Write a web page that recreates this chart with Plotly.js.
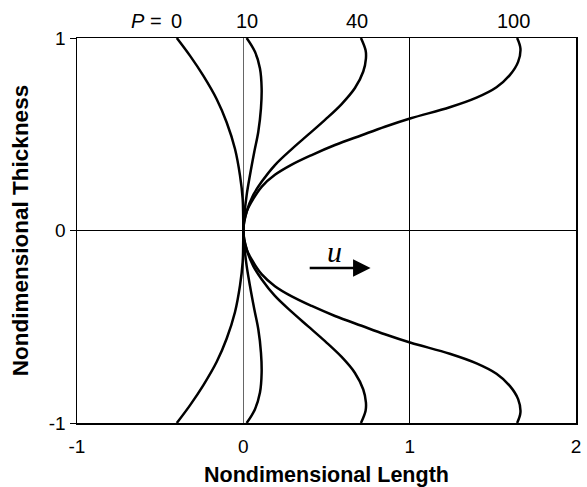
<!DOCTYPE html>
<html>
<head>
<meta charset="utf-8">
<script src="https://cdn.plot.ly/plotly-3.0.1.min.js"></script>
<style>
  html, body { margin: 0; padding: 0; background: #fff; }
  #chart { width: 587px; height: 487px; }
</style>
</head>
<body>
<div id="chart"></div>
<script>
// Velocity profiles across the gap for several pressure parameters P.
var pLabels = ['0', '10', '40', '100'];

var thickP0 = [1, 0.907, 0.803, 0.682, 0.561, 0.423, 0.285, 0.164, 0.08, 0,
               -0.08, -0.164, -0.285, -0.423, -0.561, -0.682, -0.803, -0.907, -1];
var lengthP0 = [-0.400, -0.320, -0.240, -0.160, -0.100, -0.050, -0.020, -0.004, -0.001, 0,
                -0.001, -0.004, -0.020, -0.050, -0.100, -0.160, -0.240, -0.320, -0.400];

var thickP10 = [1, 0.928, 0.842, 0.738, 0.634, 0.513, 0.409, 0.288, 0.184, 0.08, 0,
                -0.08, -0.184, -0.288, -0.409, -0.513, -0.634, -0.738, -0.842, -0.928, -1];
var lengthP10 = [0.020, 0.070, 0.100, 0.110, 0.106, 0.090, 0.066, 0.040, 0.020, 0.006, 0,
                 0.006, 0.020, 0.040, 0.066, 0.090, 0.106, 0.110, 0.100, 0.070, 0.020];

var thickP40 = [1, 0.936, 0.893, 0.826, 0.740, 0.657, 0.575, 0.498, 0.423, 0.340, 0.254, 0.185, 0.098, 0,
                -0.098, -0.185, -0.254, -0.340, -0.423, -0.498, -0.575, -0.657, -0.740, -0.826, -0.893, -0.936, -1];
var lengthP40 = [0.707, 0.735, 0.737, 0.721, 0.671, 0.591, 0.491, 0.390, 0.291, 0.190, 0.111, 0.060, 0.020, 0,
                 0.020, 0.060, 0.111, 0.190, 0.291, 0.390, 0.491, 0.591, 0.671, 0.721, 0.737, 0.735, 0.707];

var thickP100 = [1, 0.945, 0.876, 0.807, 0.744, 0.690, 0.640, 0.583, 0.539, 0.495, 0.444, 0.392, 0.342, 0.289, 0.228, 0.150, 0.098, 0,
                 -0.098, -0.150, -0.228, -0.289, -0.342, -0.392, -0.444, -0.495, -0.539, -0.583, -0.640, -0.690, -0.744, -0.807, -0.876, -0.945, -1];
var lengthP100 = [1.646, 1.666, 1.652, 1.602, 1.522, 1.402, 1.241, 1.007, 0.851, 0.711, 0.551, 0.411, 0.291, 0.190, 0.111, 0.050, 0.020, 0,
                  0.020, 0.050, 0.111, 0.190, 0.291, 0.411, 0.551, 0.711, 0.851, 1.007, 1.241, 1.402, 1.522, 1.602, 1.652, 1.666, 1.646];

var xTicks = [-1, 0, 1, 2];
var xTickText = ['-1', '0', '1', '2'];
var yTicks = [-1, 0, 1];
var yTickText = ['-1', '0', '1'];

var profiles = [
  { x: lengthP0, y: thickP0 },
  { x: lengthP10, y: thickP10 },
  { x: lengthP40, y: thickP40 },
  { x: lengthP100, y: thickP100 }
];

var sans = 'Liberation Sans, Arial, Helvetica, sans-serif';

var traces = profiles.map(function (p) {
  return {
    type: 'scatter',
    mode: 'lines',
    x: p.x,
    y: p.y,
    line: { color: '#000', width: 2.5, shape: 'spline', smoothing: 1 },
    hoverinfo: 'skip',
    showlegend: false
  };
});

// P value labels above the top of each curve
var labelShift = [0, 0, -4, -4];
var annotations = profiles.map(function (p, i) {
  return {
    x: p.x[0], xref: 'x',
    y: 1, yref: 'paper',
    yanchor: 'middle', yshift: 17, xshift: labelShift[i],
    text: pLabels[i],
    showarrow: false,
    font: { family: sans, size: 20, color: '#000' }
  };
});
annotations.push({
  x: profiles[0].x[0], xref: 'x',
  y: 1, yref: 'paper',
  xanchor: 'right', yanchor: 'middle', yshift: 17, xshift: -13,
  text: '<i>P</i> =',
  showarrow: false,
  font: { family: sans, size: 20, color: '#000' }
});
// flow direction arrow
annotations.push({
  x: 0.765, y: -0.195, xref: 'x', yref: 'y',
  ax: 0.39, ay: -0.195, axref: 'x', ayref: 'y',
  showarrow: true, arrowhead: 2, arrowsize: 1.4, arrowwidth: 2.5, arrowcolor: '#000',
  text: ''
});
annotations.push({
  x: 0.55, y: -0.11, xref: 'x', yref: 'y',
  text: '<i>u</i>', showarrow: false,
  font: { family: 'Liberation Serif, Times New Roman, serif', size: 30, color: '#000' }
});

var layout = {
  width: 587, height: 487,
  margin: { l: 77, r: 11, t: 38, b: 64 },
  paper_bgcolor: '#fff', plot_bgcolor: '#fff',
  font: { family: sans, size: 19, color: '#000' },
  xaxis: {
    range: [-1, 2],
    tickmode: 'array', tickvals: xTicks, ticktext: xTickText,
    ticks: '', showline: true, mirror: true, linecolor: '#000', linewidth: 1.5,
    showgrid: true, gridcolor: '#000', gridwidth: 1,
    zeroline: true, zerolinecolor: '#666', zerolinewidth: 1,
    tickfont: { family: sans, size: 19, color: '#000' },
    ticklabelstandoff: 6,
    title: { text: '<b>Nondimensional Length</b>', font: { family: sans, size: 21.5, color: '#000' }, standoff: 10 }
  },
  yaxis: {
    range: [-1, 1],
    tickmode: 'array', tickvals: yTicks, ticktext: yTickText,
    ticks: 'outside', ticklen: 6, tickcolor: '#000', tickwidth: 1,
    showline: true, mirror: true, linecolor: '#000', linewidth: 1.5,
    showgrid: false,
    zeroline: true, zerolinecolor: '#000', zerolinewidth: 1,
    tickfont: { family: sans, size: 19, color: '#000' },
    title: { text: '<b>Nondimensional Thickness</b>', font: { family: sans, size: 22.5, color: '#000' }, standoff: 14 }
  },
  annotations: annotations
};

Plotly.newPlot('chart', traces, layout, { staticPlot: true, displayModeBar: false });
</script>
</body>
</html>
